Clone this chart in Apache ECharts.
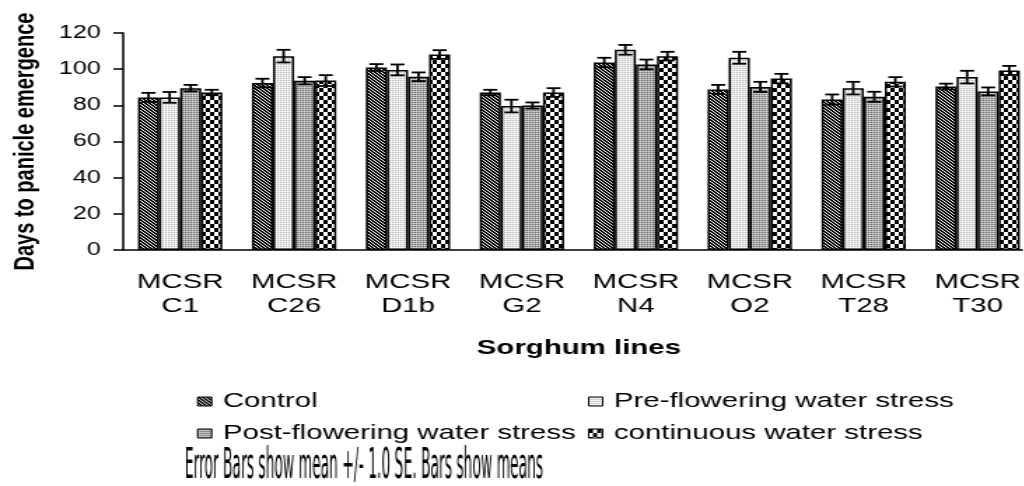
<!DOCTYPE html>
<html>
<head>
<meta charset="utf-8">
<script src="https://cdn.jsdelivr.net/npm/echarts@6/dist/echarts.min.js"></script>
<style>
  * { margin: 0; padding: 0; }
  html, body { width: 1024px; height: 486px; overflow: hidden; background: #fff; }
  /* the original picture is stretched horizontally, so the chart is drawn narrow and widened */
  #main { width: 731.43px; height: 486px; transform: scaleX(1.4); transform-origin: 0 0; }
</style>
</head>
<body>
<div id="main"></div>
<script>
var categories = ['MCSR\nC1', 'MCSR\nC26', 'MCSR\nD1b', 'MCSR\nG2', 'MCSR\nN4', 'MCSR\nO2', 'MCSR\nT28', 'MCSR\nT30']
var seriesNames = ['Control', 'Pre-flowering water stress', 'Post-flowering water stress', 'continuous water stress']
var control = [84.4, 92.3, 100.9, 87.1, 103.7, 88.8, 83.2, 90.4]
var controlSE = [2.5, 2.4, 1.9, 1.5, 2.6, 2.5, 2.8, 1.6]
var pre = [84.4, 107.2, 99.6, 79.6, 110.7, 106.3, 89.5, 95.6]
var preSE = [3.0, 3.5, 3.0, 3.5, 2.7, 3.3, 3.5, 3.5]
var post = [89.5, 93.6, 95.8, 79.9, 102.6, 90.2, 84.7, 87.7]
var postSE = [1.8, 2.0, 2.4, 1.7, 2.7, 2.8, 2.8, 2.2]
var cont = [87.1, 93.7, 108.1, 87.1, 107.2, 94.8, 93.0, 99.3]
var contSE = [1.5, 3.0, 2.4, 2.4, 2.4, 2.6, 2.6, 2.5]
var yTicks = [0, 20, 40, 60, 80, 100, 120]
var footText = 'Error Bars show mean +/- 1.0 SE. Bars show means'

var means = [control, pre, post, cont]
var errors = [controlSE, preSE, postSE, contSE]

// hatch fills, drawn pixel by pixel on small canvases
function tile(w, h, pick) {
  var c = document.createElement('canvas')
  c.width = w
  c.height = h
  var ctx = c.getContext('2d')
  for (var x = 0; x < w; x++) {
    for (var y = 0; y < h; y++) {
      ctx.fillStyle = pick(x, y)
      ctx.fillRect(x, y, 1, 1)
    }
  }
  return c
}
var stripes = tile(3, 3, function (x, y) {
  return (x - y + 3) % 3 < 2 ? '#000' : '#fff'
})
var lightDots = tile(2, 2, function (x, y) {
  return x == 0 && y == 0 ? '#b4b4b4' : '#f2f2f2'
})
var grayDots = tile(2, 2, function (x, y) {
  if (x == 0 && y == 0) return '#6e6e6e'
  if (x == 1 && y == 1) return '#cfcfcf'
  return '#b4b4b4'
})
var checker = tile(6, 8, function (x, y) {
  return (Math.floor(x / 3) + Math.floor(y / 4)) % 2 == 0 ? '#000' : '#fff'
})
var fills = [stripes, lightDots, grayDots, checker]

var catGap = 0.26
var font = 'Liberation Sans'

var chart = echarts.init(document.getElementById('main'), null, { renderer: 'canvas' })

var series = []
seriesNames.forEach(function (name, i) {
  series.push({
    name: name,
    type: 'bar',
    data: means[i],
    barGap: 0,
    barCategoryGap: catGap * 100 + '%',
    itemStyle: {
      color: { image: fills[i], repeat: 'repeat' },
      borderColor: '#000',
      borderWidth: 1.5,
    },
  })
})
seriesNames.forEach(function (name, i) {
  series.push({
    type: 'custom',
    name: name + ' SE',
    z: 5,
    data: means[i].map(function (v, j) {
      return [j, v, errors[i][j]]
    }),
    renderItem: function (params, api) {
      var idx = api.value(0)
      var v = api.value(1)
      var se = api.value(2)
      var cw = api.size([1, 0])[0]
      var bw = (cw * (1 - catGap)) / 4
      var cx = api.coord([idx, 0])[0] + (i - 1.5) * bw
      var yTop = api.coord([idx, v + se])[1]
      var yBot = api.coord([idx, v - se])[1]
      var hw = 5
      var st = { stroke: '#000', lineWidth: 1.8 }
      return {
        type: 'group',
        children: [
          { type: 'line', shape: { x1: cx, y1: yTop, x2: cx, y2: yBot }, style: st },
          { type: 'line', shape: { x1: cx - hw, y1: yTop, x2: cx + hw, y2: yTop }, style: st },
          { type: 'line', shape: { x1: cx - hw, y1: yBot, x2: cx + hw, y2: yBot }, style: st },
        ],
      }
    },
  })
})

// legend in two columns, two rows
var legendPos = [
  [140.7, 391],
  [420, 391],
  [140.7, 423],
  [420, 423],
]
var legends = seriesNames.map(function (name, i) {
  return {
    data: [name],
    left: legendPos[i][0],
    top: legendPos[i][1],
    padding: 0,
    icon: 'rect',
    itemWidth: 10,
    itemHeight: 9,
    selectedMode: false,
    itemStyle: { borderWidth: 1, borderColor: '#000' },
    textStyle: { fontFamily: font, fontSize: 21, color: '#000', padding: [0, 0, 0, 3] },
  }
})

// footer is set in a narrow font
var footFont = '42px "Liberation Sans Narrow", "DejaVu Sans Condensed"'
var mctx = document.createElement('canvas').getContext('2d')
mctx.font = footFont
var footScale = 256 / mctx.measureText(footText).width

var option = {
  animation: false,
  backgroundColor: '#fff',
  grid: { left: 88, right: -8, top: 33, bottom: 236, containLabel: false, outerBoundsMode: 'none' },
  legend: legends,
  xAxis: {
    type: 'category',
    data: categories,
    name: 'Sorghum lines',
    nameLocation: 'middle',
    nameGap: 88,
    nameTextStyle: { fontFamily: font, fontSize: 21, fontWeight: 'bold', color: '#000' },
    axisLine: { lineStyle: { color: '#000', width: 1.5 } },
    axisTick: { length: 7, lineStyle: { color: '#000', width: 1.5 } },
    axisLabel: { fontFamily: font, fontSize: 21, lineHeight: 24, color: '#000', margin: 20, interval: 0 },
  },
  yAxis: {
    type: 'value',
    min: yTicks[0],
    max: yTicks[yTicks.length - 1],
    interval: 20,
    name: 'Days to panicle emergence',
    nameLocation: 'middle',
    nameGap: 60,
    nameTextStyle: { fontFamily: font, fontSize: 20, fontWeight: 'bold', color: '#000' },
    axisLine: { show: true, lineStyle: { color: '#000', width: 1.5 } },
    axisTick: { show: true, length: 7, lineStyle: { color: '#000', width: 1.5 } },
    axisLabel: { fontFamily: font, fontSize: 18, color: '#000', margin: 16 },
    splitLine: { show: false },
  },
  graphic: [
    {
      type: 'text',
      x: 132,
      y: 467,
      scaleX: footScale,
      style: {
        text: footText,
        font: footFont,
        fill: '#000',
        verticalAlign: 'middle',
      },
    },
  ],
  series: series,
}
chart.setOption(option)
</script>
</body>
</html>
